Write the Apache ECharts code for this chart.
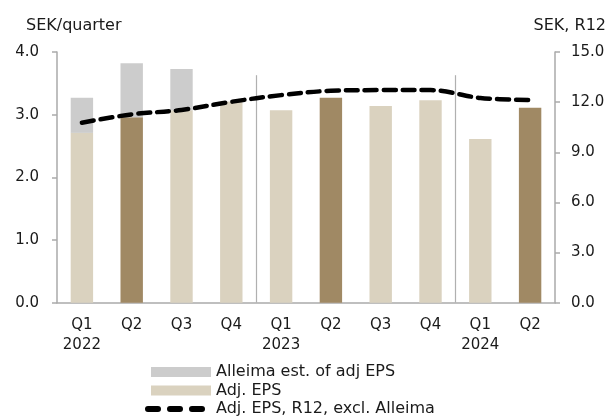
<!DOCTYPE html>
<html><head><meta charset="utf-8">
<script src="https://cdn.jsdelivr.net/npm/echarts@6/dist/echarts.min.js"></script>
<style>html,body{margin:0;padding:0;background:#fff}#c{width:609px;height:417px}</style>
</head><body><div id="c"></div>
<script>
const categories = ['Q1\n2022','Q2','Q3','Q4','Q1\n2023','Q2','Q3','Q4','Q1\n2024','Q2'];
const adjEps = [2.71, 2.96, 3.07, 3.21, 3.07, 3.27, 3.14, 3.23, 2.61, 3.11];
const alleimaEst = [0.56, 0.86, 0.66, null, null, null, null, null, null, null];
const r12 = [10.77, 11.27, 11.53, 12.02, 12.42, 12.68, 12.72, 12.72, 12.25, 12.13];
const leftTicks = {min: 0, max: 4, interval: 1};
const rightTicks = {min: 0, max: 15, interval: 3};
const yearSeparators = [4, 8];
const separatorTop = 3.63;
const darkIdx = [1, 5, 9];
const legendNames = ['Alleima est. of adj EPS', 'Adj. EPS', 'Adj. EPS, R12, excl. Alleima'];

const FONT = '"DejaVu Sans", sans-serif';
const TXT = '#1a1a1a';
const beige = '#DAD2BF', dark = '#A08964', gray = '#CCCCCC';
const dashIcon = 'path://M3,0h10a3,3 0 0 1 0,6h-10a3,3 0 0 1 0,-6z M25,0h10a3,3 0 0 1 0,6h-10a3,3 0 0 1 0,-6z M47,0h10a3,3 0 0 1 0,6h-10a3,3 0 0 1 0,-6z';

function leg(name, left, top, icon, h, padLeft) {
  return {orient: 'vertical', left: left, top: top, padding: 0,
    itemWidth: 60, itemHeight: h, itemGap: 0,
    textStyle: {fontSize: 16, color: TXT, fontFamily: FONT, padding: [0,0,0,padLeft]},
    data: [{name: name, icon: icon}]};
}

const chart = echarts.init(document.getElementById('c'), null, {renderer: 'canvas'});
chart.setOption({
  animation: false,
  textStyle: {fontFamily: FONT},
  grid: {left: 57, right: 54, top: 52, bottom: 114.3},
  title: [
    {text: 'SEK/quarter', left: 26, top: 18, padding: 0, textStyle: {fontSize: 16, fontWeight: 'normal', color: TXT, fontFamily: FONT}},
    {text: 'SEK, R12', right: 3, top: 18, padding: 0, textStyle: {fontSize: 16, fontWeight: 'normal', color: TXT, fontFamily: FONT}}
  ],
  legend: [
    leg(legendNames[0], 151, 364, 'rect', 10, 0),
    leg(legendNames[1], 151, 382.5, 'rect', 10, 0),
    leg(legendNames[2], 145, 401, dashIcon, 6, 6)
  ],
  xAxis: [
    {type: 'category', data: categories,
     axisLine: {lineStyle: {color: '#aaaaaa', width: 1.5}},
     axisTick: {show: false},
     axisLabel: {fontSize: 15, color: TXT, margin: 12, lineHeight: 20, fontFamily: FONT}},
    {type: 'value', min: 0, max: 10, show: false}
  ],
  yAxis: [
    {type: 'value', min: leftTicks.min, max: leftTicks.max, interval: leftTicks.interval,
     axisLine: {show: true, lineStyle: {color: '#aaaaaa', width: 1.5}},
     axisTick: {show: true, length: 5, lineStyle: {color: '#aaaaaa', width: 1.5}},
     splitLine: {show: false},
     axisLabel: {fontSize: 15, color: TXT, margin: 18, formatter: v => v.toFixed(1), fontFamily: FONT}},
    {type: 'value', min: rightTicks.min, max: rightTicks.max, interval: rightTicks.interval,
     axisLine: {show: true, lineStyle: {color: '#aaaaaa', width: 1.5}},
     axisTick: {show: true, length: 5, lineStyle: {color: '#aaaaaa', width: 1.5}},
     splitLine: {show: false},
     axisLabel: {fontSize: 15, color: TXT, margin: 16, formatter: v => v.toFixed(1), fontFamily: FONT}}
  ],
  series: [
    {name: legendNames[1], type: 'bar', stack: 'eps', barWidth: '45%',
     itemStyle: {color: beige},
     data: adjEps.map((v, i) => darkIdx.includes(i) ? {value: v, itemStyle: {color: dark}} : v)},
    {name: legendNames[0], type: 'bar', stack: 'eps', barWidth: '45%',
     itemStyle: {color: gray}, data: alleimaEst},
    {name: 'separators', type: 'line', xAxisIndex: 1, yAxisIndex: 0, data: [],
     markLine: {silent: true, symbol: 'none', label: {show: false},
       lineStyle: {color: '#b0b0b0', width: 1.2, type: 'solid'},
       data: yearSeparators.map(x => [{coord: [x, 0]}, {coord: [x, separatorTop]}])}},
    {name: legendNames[2], type: 'line', yAxisIndex: 1, data: r12,
     smooth: 0.35, symbol: 'none', z: 5,
     itemStyle: {color: '#000'},
     lineStyle: {color: '#000', width: 4.5, type: [12, 7], cap: 'round'}}
  ]
});
</script></body></html>
